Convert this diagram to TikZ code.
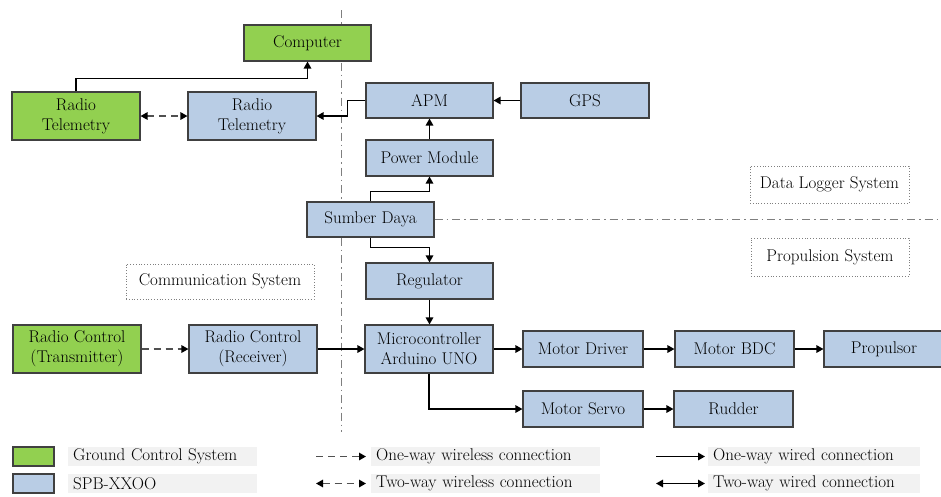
\documentclass[tikz,border=0pt]{standalone}
\usepackage{fontspec}
\usetikzlibrary{arrows.meta}
\definecolor{gcs}{HTML}{92D050}
\definecolor{spb}{HTML}{B9CDE5}
\definecolor{bord}{HTML}{404040}
\definecolor{legbg}{HTML}{F2F2F2}
\definecolor{sepc}{HTML}{7F7F7F}
\definecolor{dashc}{HTML}{505050}
\begin{document}
\begin{tikzpicture}[x=1pt,y=-1pt,
  font=\rmfamily\fontsize{17}{20}\selectfont,
  sz/.style 2 args={minimum width=#1, minimum height=#2},
  box/.style={draw=bord, line width=1.1pt, inner sep=0pt, align=center},
  gbox/.style={box, fill=gcs},
  bbox/.style={box, fill=spb},
  lbl/.style={draw=sepc, dotted, line width=0.8pt, inner sep=0pt},
  legtxt/.style={fill=legbg, inner sep=0pt, minimum height=19pt, align=left, anchor=west},
  arr/.style={line width=1.4pt, -{Triangle[length=7pt,width=7.5pt]}},
  warr/.style={line width=1.4pt, dashc, dash pattern=on 7pt off 5pt, -{Triangle[length=7pt,width=7.5pt,color=black]}},
  wdarr/.style={line width=1.4pt, dashc, dash pattern=on 7pt off 5pt, {Triangle[length=7pt,width=7.5pt,color=black]}-{Triangle[length=7pt,width=7.5pt,color=black]}},
  ddarr/.style={line width=1.4pt, {Triangle[length=7pt,width=7.5pt]}-{Triangle[length=7pt,width=7.5pt]}},
  sepline/.style={draw=sepc, line width=1pt, dash pattern=on 8pt off 4pt on 1.5pt off 4pt}
]
\useasboundingbox (0,0) rectangle (941,496);

% separator lines
\coordinate (vtop) at (341,10);
\coordinate (vbot) at (341,432);
\coordinate (hend) at (941,219.5);
\draw[sepline] (vtop) -- (vbot);

% nodes
\node[gbox, sz={127pt}{36pt}] (computer) at (307.5,43) {Computer};
\node[gbox, sz={128pt}{48pt}] (rtg) at (76,116) {Radio\\Telemetry};
\node[bbox, sz={128pt}{48pt}] (rtb) at (252,116) {Radio\\Telemetry};
\node[bbox, sz={127pt}{35pt}] (apm) at (429.5,100.5) {APM};
\node[bbox, sz={128pt}{35pt}] (gps) at (585,100.5) {GPS};
\node[bbox, sz={127pt}{36pt}] (pm) at (429.5,158) {Power Module};
\node[bbox, sz={127pt}{35pt}] (sd) at (370.5,219.5) {Sumber Daya};
\node[bbox, sz={127pt}{36pt}] (reg) at (429.5,281) {Regulator};
\node[bbox, sz={128pt}{48pt}] (mcu) at (429,349) {Microcontroller\\Arduino UNO};
\node[gbox, sz={128pt}{48pt}] (rct) at (77,349) {Radio Control\\(Transmitter)};
\node[bbox, sz={128pt}{48pt}] (rcr) at (253,349) {Radio Control\\(Receiver)};
\node[bbox, sz={120pt}{36pt}] (md) at (583,349) {Motor Driver};
\node[bbox, sz={119pt}{36pt}] (bdc) at (734.5,349) {Motor BDC};
\node[bbox, sz={120pt}{36pt}] (prop) at (884,349) {Propulsor};
\node[bbox, sz={120pt}{36pt}] (ms) at (583,409) {Motor Servo};
\node[bbox, sz={119pt}{36pt}] (rud) at (733.5,409) {Rudder};

\draw[sepline] (sd.east) -- (hend);

% system labels
\node[lbl, sz={188pt}{35pt}] (comm) at (220,281.5) {Communication System};
\node[lbl, sz={159pt}{37pt}] (dls) at (829.5,184.5) {Data Logger System};
\node[lbl, sz={158pt}{38pt}] (pps) at (830,257) {Propulsion System};

% connectors
\draw[arr] (rtg.north) -- ++(0,-13) -| (computer.south);
\draw[wdarr] (rtg.east) -- (rtb.west);
\draw[arr] (apm.west) -- ++(-18,0) |- (rtb.east);
\draw[arr] (gps.west) -- (apm.east);
\draw[arr] (pm.north) -- (apm.south);
\draw[arr] (sd.north) -- ++(0,-10) -| (pm.south);
\draw[arr] (sd.south) -- ++(0,10) -| (reg.north);
\draw[arr] (reg.south) -- (reg.south |- mcu.north);
\draw[warr] (rct.east) -- (rcr.west);
\draw[arr] (rcr.east) -- (mcu.west);
\draw[arr] (mcu.east) -- (md.west);
\draw[arr] (md.east) -- (bdc.west);
\draw[arr] (bdc.east) -- (prop.west);
\draw[arr] (mcu.south) |- (ms.west);
\draw[arr] (ms.east) -- (rud.west);

% legend
\node[gbox, sz={41pt}{19pt}] (lg) at (33.5,456.5) {};
\node[bbox, sz={41pt}{19pt}] (lb) at (33.5,483.5) {};
\node[legtxt, text width=189pt] (lgt) at (68,456.5) {\hspace*{5pt}Ground Control System};
\node[legtxt, text width=189pt] (lbt) at (68,483.5) {\hspace*{5pt}SPB-XXOO};

\coordinate (w1a) at (316,456.5);
\coordinate (w1b) at (366,456.5);
\coordinate (w2a) at (316,483.5);
\coordinate (w2b) at (366,483.5);
\node[legtxt, text width=229pt] (w1t) at (371,456.5) {\hspace*{5pt}One-way wireless connection};
\node[legtxt, text width=229pt] (w2t) at (371,483.5) {\hspace*{5pt}Two-way wireless connection};
\draw[warr] (w1a) -- (w1b);
\draw[wdarr] (w2a) -- (w2b);

\coordinate (d1a) at (656,456.5);
\coordinate (d1b) at (705,456.5);
\coordinate (d2a) at (656,483.5);
\coordinate (d2b) at (705,483.5);
\node[legtxt, text width=212pt] (d1t) at (708,456.5) {\hspace*{5pt}One-way wired connection};
\node[legtxt, text width=212pt] (d2t) at (708,483.5) {\hspace*{5pt}Two-way wired connection};
\draw[arr] (d1a) -- (d1b);
\draw[ddarr] (d2a) -- (d2b);
\end{tikzpicture}
\end{document}
